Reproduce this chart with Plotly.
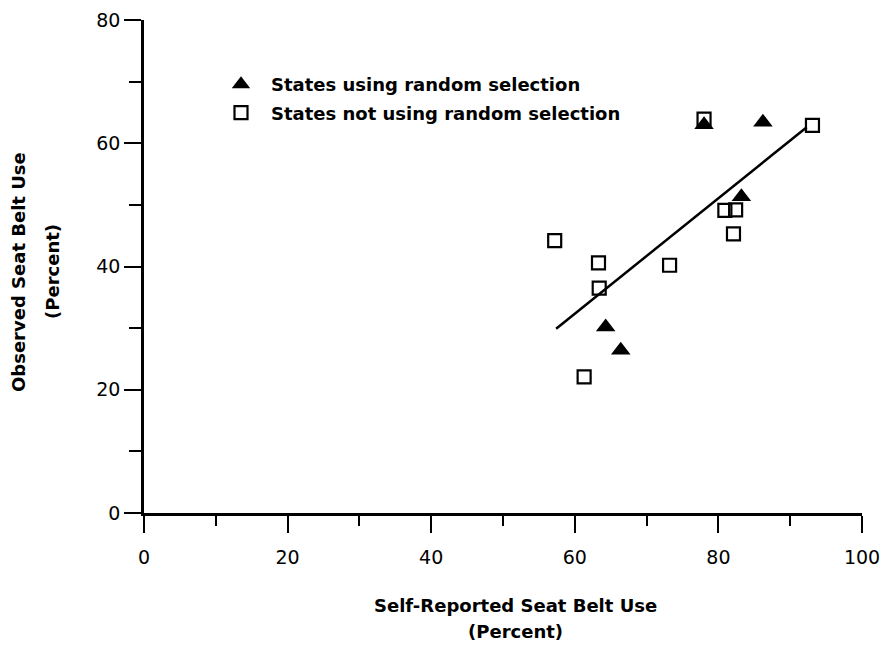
import plotly.graph_objects as go

# Data
random_x = [78.0, 86.2, 83.2, 64.3, 66.4]
random_y = [63.0, 63.4, 51.3, 30.2, 26.4]

nonrandom_x = [78.0, 93.1, 80.9, 82.4, 82.1, 57.2, 63.3, 73.2, 63.4, 61.3]
nonrandom_y = [63.9, 62.9, 49.1, 49.2, 45.3, 44.2, 40.6, 40.2, 36.5, 22.1]

fit_x = [57.4, 92.3]
fit_y = [29.9, 62.6]

x_ticks = [0, 20, 40, 60, 80, 100]
y_ticks = [0, 20, 40, 60, 80]

FONT = "DejaVu Sans"
TITLE_FONT = dict(family=FONT, size=18, color="black", weight="bold")

fig = go.Figure()

fig.add_trace(go.Scatter(
    x=fit_x, y=fit_y, mode="lines",
    line=dict(color="black", width=2.5),
    showlegend=False, hoverinfo="skip",
))

fig.add_trace(go.Scatter(
    x=nonrandom_x, y=nonrandom_y, mode="markers",
    name="States not using random selection",
    legendgroup="b", legendrank=2,
    marker=dict(symbol="square-open", size=13, color="black",
                line=dict(width=2.2, color="black")),
))

fig.add_trace(go.Scatter(
    x=random_x, y=random_y, mode="markers",
    name="States using random selection",
    legendgroup="a", legendrank=1,
    marker=dict(symbol="triangle-up", size=17, color="black",
                line=dict(width=0)),
))

fig.update_layout(
    template="none",
    width=881, height=652,
    margin=dict(l=144, r=19, t=20, b=139, autoexpand=False),
    paper_bgcolor="white", plot_bgcolor="white",
    font=dict(family=FONT, color="black", size=16),
    showlegend=True,
    legend=dict(
        x=(211 - 144) / 718, y=(513 - 66) / 493,
        xanchor="left", yanchor="top",
        font=TITLE_FONT,
        tracegroupgap=2, itemwidth=50,
        bgcolor="rgba(0,0,0,0)",
    ),
    xaxis=dict(
        range=[0, 100], tickvals=x_ticks, ticktext=[str(v) for v in x_ticks],
        showgrid=False, zeroline=False, automargin=False,
        showline=True, linecolor="black", linewidth=2.5,
        ticks="outside", ticklen=17, tickwidth=2, tickcolor="black",
        minor=dict(dtick=10, ticks="outside", ticklen=10, tickwidth=2, tickcolor="black"),
        tickfont=dict(family=FONT, size=19, color="black"),
        ticklabelstandoff=8,
    ),
    yaxis=dict(
        range=[0, 80], tickvals=y_ticks, ticktext=[str(v) for v in y_ticks],
        showgrid=False, zeroline=False, automargin=False,
        showline=True, linecolor="black", linewidth=2.5,
        ticks="outside", ticklen=17, tickwidth=2, tickcolor="black",
        minor=dict(dtick=10, ticks="outside", ticklen=12, tickwidth=2, tickcolor="black"),
        tickfont=dict(family=FONT, size=19, color="black"),
    ),
    annotations=[
        dict(text="Observed Seat Belt Use", xref="paper", yref="paper",
             x=(18 - 144) / 718, y=(513 - 272) / 493, textangle=-90,
             showarrow=False, xanchor="center", yanchor="middle",
             font=TITLE_FONT),
        dict(text="(Percent)", xref="paper", yref="paper",
             x=(52 - 144) / 718, y=(513 - 272) / 493, textangle=-90,
             showarrow=False, xanchor="center", yanchor="middle",
             font=TITLE_FONT),
        dict(text="Self-Reported Seat Belt Use", xref="paper", yref="paper",
             x=(515 - 144) / 718, y=(513 - 605) / 493,
             showarrow=False, xanchor="center", yanchor="middle",
             font=TITLE_FONT),
        dict(text="(Percent)", xref="paper", yref="paper",
             x=(515 - 144) / 718, y=(513 - 631) / 493,
             showarrow=False, xanchor="center", yanchor="middle",
             font=TITLE_FONT),
    ],
)

fig.write_html("out.html", config={"displayModeBar": False},
               post_script="document.body.style.margin='0px';")
